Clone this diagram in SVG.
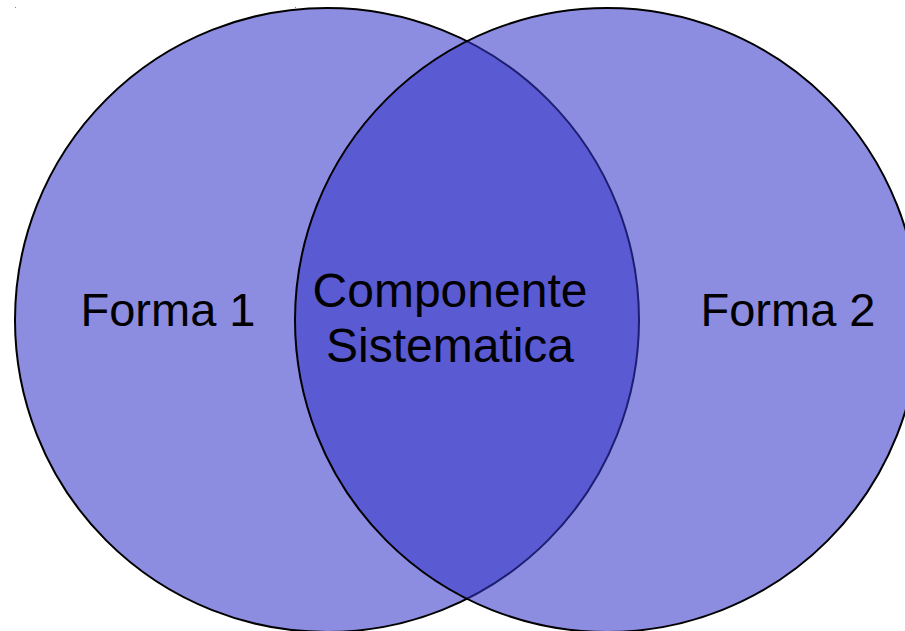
<svg xmlns="http://www.w3.org/2000/svg" width="905" height="631" viewBox="0 0 905 631">
  <style>
    .set { fill: #3333c8; fill-opacity: 0.565; stroke: #000; stroke-width: 2; }
    .lbl { font-family: "Liberation Sans", Arial, sans-serif; font-size: 47px; fill: #000; text-anchor: middle; }
    .mid { font-size: 48px; }
    .tick { fill: #888; }
  </style>
  <rect width="905" height="631" fill="#fff"/>
  <rect class="tick" x="15" y="7" width="1" height="1"/>
  <rect class="tick" x="295" y="7" width="1" height="1"/>
  <g id="forma1">
    <circle class="set" cx="327" cy="320" r="312"/>
  </g>
  <g id="forma2">
    <circle class="set" cx="607" cy="320" r="312"/>
  </g>
  <g id="labels">
    <text class="lbl" x="168" y="326">Forma 1</text>
    <text class="lbl mid" x="450" y="307">Componente</text>
    <text class="lbl mid" x="450" y="362">Sistematica</text>
    <text class="lbl" x="788" y="326">Forma 2</text>
  </g>
</svg>
